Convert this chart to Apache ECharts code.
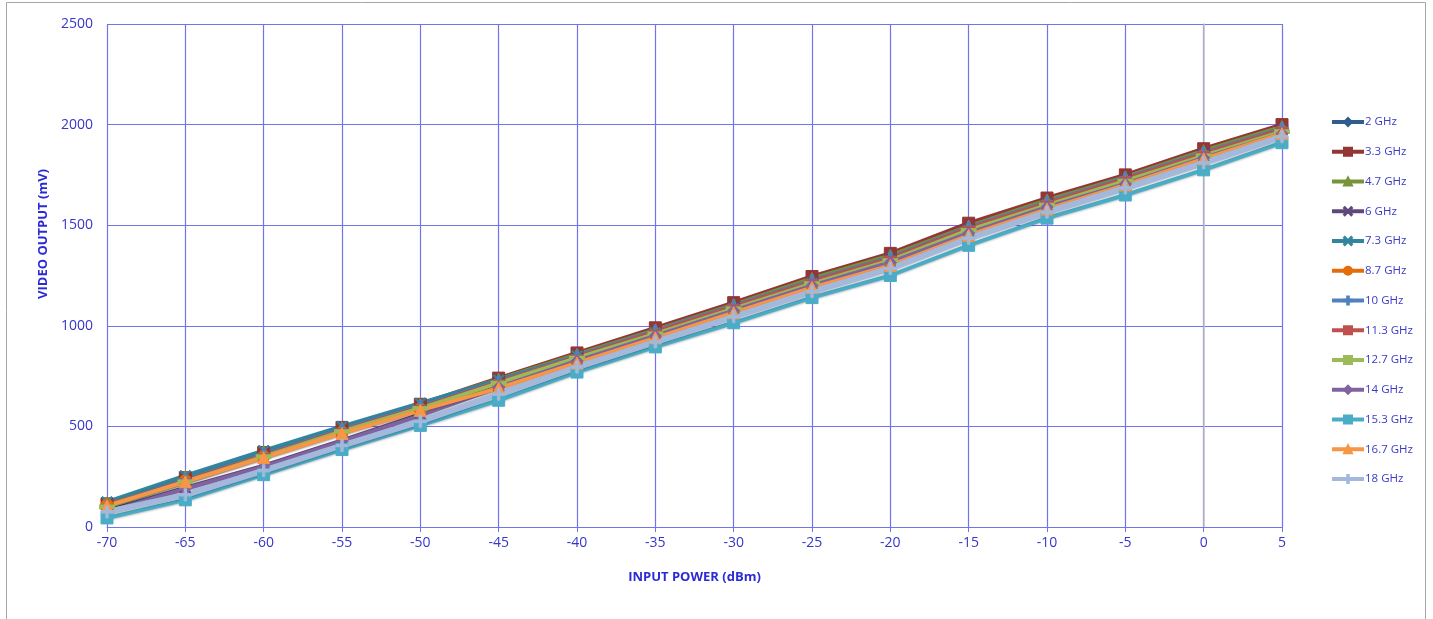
<!DOCTYPE html>
<html>
<head>
<meta charset="utf-8">
<script src="https://cdn.jsdelivr.net/npm/echarts@6/dist/echarts.min.js"></script>
<style>
html,body{margin:0;padding:0;background:#fff;}
#c{width:1433px;height:619px;}
</style>
</head>
<body>
<div id="c"></div>
<script>
var inputPower = [-70,-65,-60,-55,-50,-45,-40,-35,-30,-25,-20,-15,-10,-5,0,5];
var seriesNames = ['2 GHz','3.3 GHz','4.7 GHz','6 GHz','7.3 GHz','8.7 GHz','10 GHz','11.3 GHz','12.7 GHz','14 GHz','15.3 GHz','16.7 GHz','18 GHz'];
var yTicks = [0,500,1000,1500,2000,2500];

var s2_0  = [110,240,365,490,605,735,860,985,1110,1240,1355,1505,1630,1745,1875,1995];
var s3_3  = [115,245,370,495,610,740,865,990,1115,1245,1360,1510,1635,1750,1880,2000];
var s4_7  = [120,250,375,495,610,735,858,980,1105,1235,1350,1495,1625,1740,1870,1990];
var s6_0  = [80,195,305,430,560,700,835,965,1090,1220,1335,1480,1610,1725,1855,1975];
var s7_3  = [125,255,380,500,615,730,850,965,1085,1210,1320,1470,1600,1715,1845,1965];
var s8_7  = [110,230,350,470,585,700,830,955,1080,1205,1320,1470,1600,1715,1845,1965];
var s10_0 = [105,235,360,485,600,725,850,975,1100,1225,1340,1490,1615,1735,1860,1980];
var s11_3 = [100,230,355,480,595,720,845,970,1095,1220,1335,1485,1610,1730,1855,1975];
var s12_7 = [100,225,350,475,590,715,840,960,1085,1210,1325,1475,1600,1720,1845,1965];
var s14_0 = [75,190,300,425,555,695,825,950,1075,1200,1315,1460,1590,1705,1835,1955];
var s15_3 = [45,135,260,385,505,630,770,895,1015,1140,1250,1400,1535,1650,1775,1910];
var s16_7 = [105,225,345,465,580,690,815,940,1065,1190,1300,1450,1580,1700,1830,1955];
var s18_0 = [75,160,280,405,525,660,795,920,1045,1170,1285,1435,1565,1685,1810,1940];

var seriesValues = [s2_0,s3_3,s4_7,s6_0,s7_3,s8_7,s10_0,s11_3,s12_7,s14_0,s15_3,s16_7,s18_0];

var colors = ['#2F5D8C','#943634','#77933C','#5F497A','#31859C','#E46C0A','#4F81BD','#C0504D','#9BBB59','#8064A2','#4BACC6','#F79646','#A4B8DC'];
var X = 'path://M0,1L1,0L5,4L9,0L10,1L6,5L10,9L9,10L5,6L1,10L0,9L4,5Z';
var PLUS = 'path://M4,0H6V4H10V6H6V10H4V6H0V4H4Z';
var DASH = 'path://M0,4H10V6H0Z';
var symbols = ['diamond','rect','triangle',X,X,'circle',PLUS,DASH,DASH,'diamond','rect','triangle',PLUS];
var symSizes = [12,12,12,11,11,12,12,[12,4],[14,4],12,12,12,12];
var widths = [4,4,4,4,4,4,4,4,4,4,4,4,6];

var series = seriesNames.map(function(n,i){
  return {
    name:n, type:'line',
    data: inputPower.map(function(x,j){return [x, seriesValues[i][j]];}),
    symbol: symbols[i], symbolSize: symSizes[i], showAllSymbol:true,
    lineStyle:{width:widths[i], color:colors[i], shadowColor:'rgba(0,0,0,0.25)', shadowBlur:2, shadowOffsetY:1},
    itemStyle:{color:colors[i], borderColor:colors[i], borderWidth:1},
    emphasis:{disabled:true},
    animation:false
  };
});

var chart = echarts.init(document.getElementById('c'));
var labelColor = '#3636CC';
chart.setOption({
  animation:false,
  color: colors,
  grid:{left:107, right:151, top:24, bottom:92},
  graphic:[
    {type:'rect', shape:{x:6.5,y:2.5,width:1419,height:640}, style:{fill:'none', stroke:'#A6A6A6', lineWidth:1}, z:-1},
    {type:'text', x:43, y:234, rotation:Math.PI/2,
     style:{text:'VIDEO OUTPUT (mV)', fill:'#2B2BD6', font:'bold 13px "Open Sans", sans-serif', align:'center', verticalAlign:'middle'}}
  ],
  legend:{
    orient:'vertical', left:1325, top:111,
    itemWidth:32, itemHeight:10, itemGap:17.75,
    data: seriesNames,
    lineStyle:{width:4},
    textStyle:{color:'#3A3AC8', fontSize:11.5, fontFamily:'"Open Sans", sans-serif', padding:[0,0,0,-4]}
  },
  xAxis:{
    type:'value', min:-70, max:5, interval:5,
    name:'INPUT POWER (dBm)', nameLocation:'middle', nameGap:44,
    nameTextStyle:{color:'#2B2BD6', fontWeight:'bold', fontSize:13, fontFamily:'"Open Sans", sans-serif'},
    axisLine:{show:true, onZero:false, lineStyle:{color:'#7373EE', width:1.2}},
    axisTick:{show:true, length:5, lineStyle:{color:'#7373EE'}},
    axisLabel:{color:labelColor, fontSize:14, margin:9, fontFamily:'"Open Sans", sans-serif', formatter:function(v){return String(v);}},
    splitLine:{show:true, lineStyle:{color:'#7373EE', width:1.2}}
  },
  yAxis:{
    type:'value', min:yTicks[0], max:yTicks[yTicks.length-1], interval:500,
    axisLine:{show:true, lineStyle:{color:'#C0C0C0', width:1.5}},
    axisTick:{show:false},
    axisLabel:{color:labelColor, fontSize:14, margin:14, fontFamily:'"Open Sans", sans-serif', formatter:function(v){return String(v);}},
    splitLine:{show:true, lineStyle:{color:'#7373EE', width:1.2}}
  },
  series: series
});
</script>
</body>
</html>
